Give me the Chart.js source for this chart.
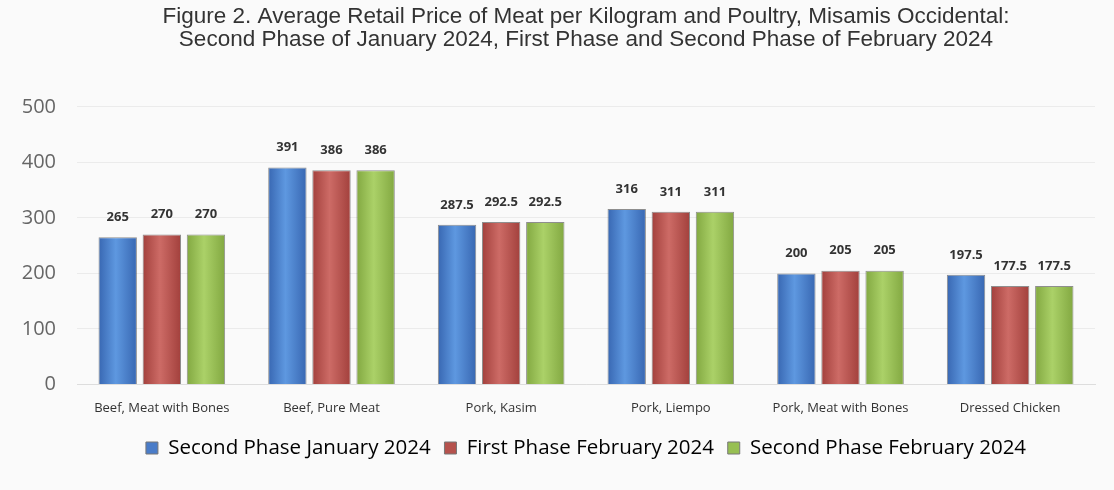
<!DOCTYPE html>
<html>
<head>
<meta charset="utf-8">
<script src="https://cdn.jsdelivr.net/npm/chart.js@4"></script>
<style>
  html, body { margin: 0; padding: 0; background: #fafafa; }
  #wrap { width: 1114px; height: 490px; }
</style>
</head>
<body>
<div id="wrap"><canvas id="chart"></canvas></div>
<script>
const categories = ['Beef, Meat with Bones', 'Beef, Pure Meat', 'Pork, Kasim', 'Pork, Liempo', 'Pork, Meat with Bones', 'Dressed Chicken'];
const secondPhaseJan = [265, 391, 287.5, 316, 200, 197.5];
const firstPhaseFeb = [270, 386, 292.5, 311, 205, 177.5];
const secondPhaseFeb = [270, 386, 292.5, 311, 205, 177.5];
const yTicks = [0, 100, 200, 300, 400, 500];

// edge / middle / flat colours for the shaded bars
const palette = [
    ['#3867b2', '#5e98e0', '#4a7cc8'],
    ['#a2403c', '#cd6b66', '#b5524d'],
    ['#82a841', '#abd168', '#97bf52']
];

// swap the flat fill for a left-right shade once the bars have their size
const barShade = {
    id: 'barShade',
    beforeDatasetsDraw(chart) {
        const ctx = chart.ctx;
        chart.data.datasets.forEach((ds, i) => {
            const cols = palette[i];
            chart.getDatasetMeta(i).data.forEach((bar) => {
                const x0 = bar.x - bar.width / 2;
                const g = ctx.createLinearGradient(x0, 0, x0 + bar.width, 0);
                g.addColorStop(0, cols[0]);
                g.addColorStop(0.45, cols[1]);
                g.addColorStop(1, cols[0]);
                bar.options = Object.assign({}, bar.options, {backgroundColor: g});
            });
        });
    }
};

const valueLabels = {
    id: 'valueLabels',
    afterDatasetsDraw(chart) {
        const ctx = chart.ctx;
        ctx.save();
        ctx.font = 'bold 13px "Open Sans"';
        ctx.fillStyle = '#333';
        ctx.textAlign = 'center';
        ctx.textBaseline = 'middle';
        chart.data.datasets.forEach((ds, i) => {
            chart.getDatasetMeta(i).data.forEach((bar, j) => {
                ctx.fillText(String(ds.data[j]), bar.x, bar.y - 20);
            });
        });
        ctx.restore();
    }
};

function makeDataset(label, data, cols) {
    return {
        label,
        data,
        backgroundColor: cols[2],
        borderColor: 'rgba(70,70,70,0.6)',
        borderWidth: 1,
        categoryPercentage: 0.78,
        barPercentage: 0.87
    };
}

new Chart(document.getElementById('chart'), {
    type: 'bar',
    data: {
        labels: categories,
        datasets: [
            makeDataset('Second Phase January 2024', secondPhaseJan, palette[0]),
            makeDataset('First Phase February 2024', firstPhaseFeb, palette[1]),
            makeDataset('Second Phase February 2024', secondPhaseFeb, palette[2])
        ]
    },
    options: {
        responsive: true,
        maintainAspectRatio: false,
        animation: false,
        layout: {padding: {left: 0, right: 19, top: 0, bottom: 21.75}},
        plugins: {
            title: {
                display: true,
                fullSize: false,
                text: ['Figure 2. Average Retail Price of Meat per Kilogram and Poultry, Misamis Occidental:',
                    'Second Phase of January 2024, First Phase and Second Phase of February 2024'],
                font: {family: '"Liberation Sans", Arial', size: 22.5, weight: 'normal', lineHeight: 1.03},
                color: '#333',
                padding: {top: 5, bottom: 55.6}
            },
            legend: {
                position: 'bottom',
                fullSize: false,
                labels: {
                    font: {family: '"Open Sans"', size: 20.5},
                    color: '#555',
                    boxWidth: 12,
                    boxHeight: 12,
                    padding: 13.75,
                    generateLabels: (chart) => chart.data.datasets.map((ds, i) => ({
                        text: ds.label,
                        fillStyle: palette[i][2],
                        strokeStyle: '#777',
                        lineWidth: 1,
                        datasetIndex: i
                    }))
                }
            },
            tooltip: {enabled: false}
        },
        scales: {
            x: {
                grid: {display: false},
                border: {color: '#ddd'},
                ticks: {
                    font: {family: '"Open Sans"', size: 13},
                    color: '#333',
                    maxRotation: 0,
                    autoSkip: false,
                    padding: 8
                }
            },
            y: {
                min: 0,
                max: 500,
                afterBuildTicks: (scale) => { scale.ticks = yTicks.map(v => ({value: v})); },
                afterFit: (scale) => { scale.width = 77; },
                grid: {color: '#ebebeb', drawTicks: false},
                border: {display: false},
                ticks: {
                    font: {family: '"Open Sans"', size: 20},
                    color: '#666',
                    padding: 21
                }
            }
        }
    },
    plugins: [barShade, valueLabels]
});
</script>
</body>
</html>
